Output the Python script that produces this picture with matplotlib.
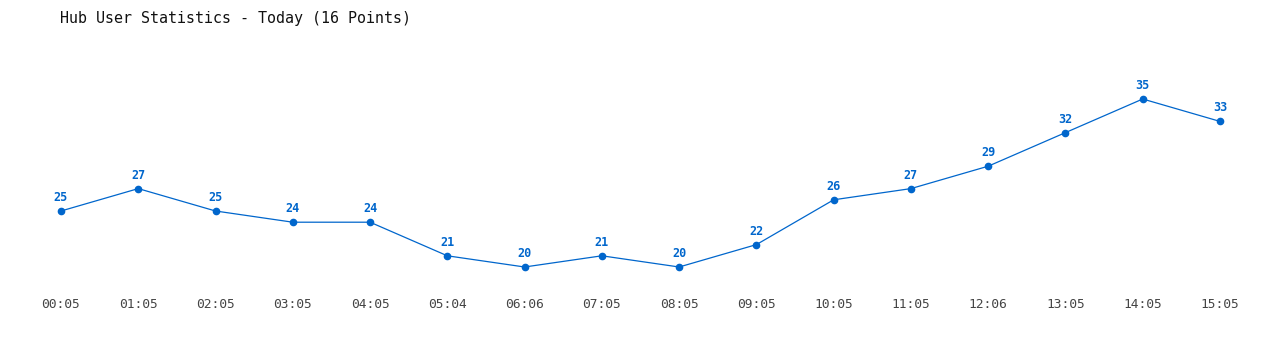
import matplotlib
matplotlib.use("Agg")
import matplotlib.pyplot as plt

# --- Data ---
times = ["00:05", "01:05", "02:05", "03:05", "04:05", "05:04", "06:06", "07:05",
         "08:05", "09:05", "10:05", "11:05", "12:06", "13:05", "14:05", "15:05"]
users = [25, 27, 25, 24, 24, 21, 20, 21, 20, 22, 26, 27, 29, 32, 35, 33]

BLUE = "#0066cc"

fig = plt.figure(figsize=(12.8, 3.5), dpi=100)
ax = fig.add_axes([0, 60 / 350, 1, 250 / 350])

x = list(range(len(users)))
ax.plot(x, users, color=BLUE, lw=0.9, marker="o", ms=4.5)

for xi, v in zip(x, users):
    ax.annotate(str(v), (xi, v), xytext=(0, 5), textcoords="offset points",
                ha="center", va="bottom", color=BLUE, fontsize=8.5,
                fontweight="bold", family="DejaVu Sans Mono")

ax.set_xlim(-61 / 77.27, 15 + 60 / 77.27)
ax.set_ylim(20 - 23 / 11.2, 35 + 59 / 11.2)
ax.set_xticks(x)
ax.set_xticklabels(times, family="DejaVu Sans Mono", fontsize=9.3, color="#444444")
ax.tick_params(axis="x", length=0, pad=6)
ax.set_yticks([])
for s in ax.spines.values():
    s.set_visible(False)

fig.text(60 / 1280, 1 - 18 / 350, "Hub User Statistics - Today (16 Points)",
         family="DejaVu Sans Mono", fontsize=10.8, va="center", color="#111111")

fig.savefig("out.png", dpi=100)
